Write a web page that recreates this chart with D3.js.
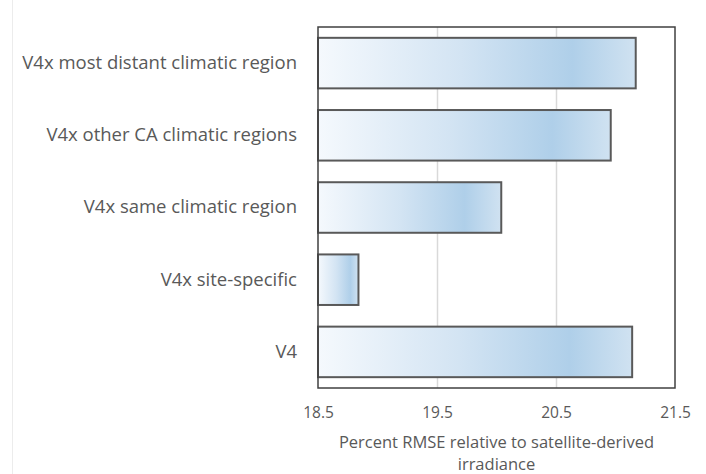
<!DOCTYPE html>
<html>
<head>
<meta charset="utf-8">
<script src="https://cdn.jsdelivr.net/npm/d3@7"></script>
<style>
  body { margin: 0; background: #fff; }
  svg text { font-family: "Open Sans", sans-serif; fill: #595959; }
</style>
</head>
<body>
<svg id="chart" width="706" height="474"></svg>
<script>
var categories = ["V4x most distant climatic region", "V4x other CA climatic regions",
                  "V4x same climatic region", "V4x site-specific", "V4"],
    rmse = [21.17, 20.96, 20.04, 18.84, 21.14],
    tick_values = [18.5, 19.5, 20.5, 21.5];

var margin = {top: 27, right: 31, bottom: 86, left: 318},
    width = 706 - margin.left - margin.right,
    height = 474 - margin.top - margin.bottom;

var svg = d3.select("#chart");

// bar gradient, white to light blue, lighter again at the end
var grad = svg.append("defs").append("linearGradient")
    .attr('id', "barGrad")
    .attr('x1', "0%").attr('x2', "100%")
    .attr('y1', "0%").attr('y2', "0%");
grad.append("stop").attr('offset', "0%").attr('stop-color', "#f5f9fd");
grad.append("stop").attr('offset', "45%").attr('stop-color', "#d3e4f3");
grad.append("stop").attr('offset', "80%").attr('stop-color', "#afcfe9");
grad.append("stop").attr('offset', "100%").attr('stop-color', "#d0e2f1");

// faint outer border line on the left
svg.append("line")
    .attr('x1', 12.5).attr('x2', 12.5)
    .attr('y1', 0).attr('y2', 474)
    .style('stroke', "#ececec")
    .style('stroke-width', 1);

var g = svg.append("g")
    .attr('transform', "translate(" + margin.left + "," + margin.top + ")");

var x = d3.scaleLinear()
    .domain([18.5, 21.5])
    .range([0, width]);

var y = d3.scaleBand()
    .domain(categories)
    .range([0, height])
    .paddingInner(0.3)
    .paddingOuter(0.15);

// gridlines
g.append("g")
    .selectAll("line")
    .data(tick_values.slice(1, -1))
    .enter()
    .append("line")
    .attr('x1', function(d){ return Math.round(x(d)) + 0.5; })
    .attr('x2', function(d){ return Math.round(x(d)) + 0.5; })
    .attr('y1', 0)
    .attr('y2', height)
    .style('stroke', "#d9d9d9")
    .style('stroke-width', 1.5);

// bars
g.append("g")
    .selectAll("rect")
    .data(rmse)
    .enter()
    .append("rect")
    .attr('x', x(18.5))
    .attr('y', function(d,i){ return y(categories[i]); })
    .attr('width', function(d){ return x(d) - x(18.5); })
    .attr('height', y.bandwidth())
    .style('fill', "url(#barGrad)")
    .style('stroke', "#595959")
    .style('stroke-width', 2);

// plot frame
g.append("rect")
    .attr('x', 0).attr('y', 0)
    .attr('width', width).attr('height', height)
    .style('fill', "none")
    .style('stroke', "#404040")
    .style('stroke-width', 1.5);

// x axis
var xAxis = g.append("g")
    .attr('transform', "translate(0," + height + ")")
    .call(d3.axisBottom(x)
        .tickValues(tick_values)
        .tickFormat(d3.format(".1f"))
        .tickSize(0)
        .tickPadding(18.5));
xAxis.select("path.domain").remove();
xAxis.selectAll("text")
    .style('font-size', "15.5px")
    .style('font-family', "\"Open Sans\", sans-serif")
    .attr('fill', "#595959");

// y axis labels
var yAxis = g.append("g")
    .call(d3.axisLeft(y).tickSize(0).tickPadding(21));
yAxis.select("path.domain").remove();
yAxis.selectAll("text")
    .style('font-size', "18.5px")
    .style('font-family', "\"Open Sans\", sans-serif")
    .attr('fill', "#595959");

// axis title
var title = svg.append("text")
    .attr('text-anchor', "middle")
    .style('font-size', "16.5px");
title.append("tspan")
    .attr('x', margin.left + width / 2)
    .attr('y', 448)
    .text("Percent RMSE relative to satellite-derived");
title.append("tspan")
    .attr('x', margin.left + width / 2)
    .attr('y', 470)
    .text("irradiance");
</script>
</body>
</html>
